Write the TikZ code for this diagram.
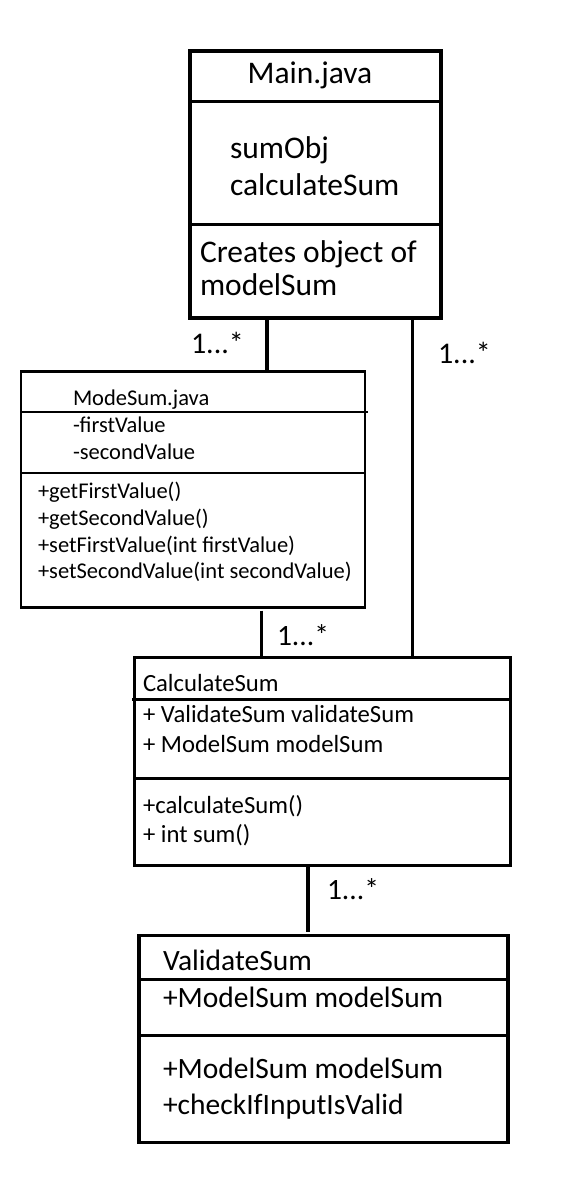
\documentclass[tikz,border=0pt]{standalone}
\usepackage{fontspec}
\setmainfont{Carlito}
\begin{document}
\begin{tikzpicture}[x=1pt,y=-1pt,
  box/.style={draw, rectangle, inner sep=0pt, outer sep=0pt, anchor=north west},
  txt/.style={anchor=base west, inner sep=0pt, outer sep=0pt},
  conn/.style={line width=4pt},
  fmain/.style={font=\fontsize{31.5}{37}\selectfont},
  fmode/.style={font=\fontsize{22.5}{27}\selectfont},
  fcalc/.style={font=\fontsize{24.7}{30}\selectfont},
  fval/.style={font=\fontsize{29.5}{35}\selectfont},
  flab/.style={font=\fontsize{30}{36}\selectfont}]
\fill[white] (0,0) rectangle (583,1204);
\useasboundingbox (0,0) rectangle (583,1204);

% Main.java
\node[box, line width=4pt, minimum width=250.5pt, minimum height=266.5pt] (main) at (190,51) {};
\draw[line width=3pt] (main.west |- 0,101.5) -- (main.east |- 0,101.5);
\draw[line width=3pt] (main.west |- 0,224) -- (main.east |- 0,224);
\node[fmain, anchor=base, inner sep=0pt] (mt) at (310,84) {Main.java};
\node[fmain, txt] (m1) at (230,158) {sumObj};
\node[fmain, txt] (m2) at (230,195) {calculateSum};
\node[fmain, txt] (m3) at (200,262) {Creates object of};
\node[fmain, txt] (m4) at (200,295) {modelSum};

% ModeSum.java
\node[box, line width=2.7pt, minimum width=344pt, minimum height=236pt] (mode) at (21,371.5) {};
\draw[line width=2.7pt] (mode.west |- 0,412) -- (368,412);
\draw[line width=2.7pt] (mode.west |- 0,473) -- (mode.east |- 0,473);
\node[fmode, txt] (d0) at (73,405) {ModeSum.java};
\node[fmode, txt] (d1) at (73,432) {-firstValue};
\node[fmode, txt] (d2) at (73,459) {-secondValue};
\node[fmode, txt] (d3) at (38,498) {+getFirstValue()};
\node[fmode, txt] (d4) at (38,525) {+getSecondValue()};
\node[fmode, txt] (d5) at (38,552) {+setFirstValue(int firstValue)};
\node[fmode, txt] (d6) at (38,578) {+setSecondValue(int secondValue)};

% CalculateSum
\node[box, line width=3pt, minimum width=375.5pt, minimum height=208pt] (calc) at (134.5,657.5) {};
\draw[line width=3pt] (132,699) -- (calc.east |- 0,699);
\draw[line width=3pt] (calc.west |- 0,778) -- (calc.east |- 0,778);
\node[fcalc, txt] (c0) at (143,691) {CalculateSum};
\node[fcalc, txt] (c1) at (143,722) {+ ValidateSum validateSum};
\node[fcalc, txt] (c2) at (143,752) {+ ModelSum modelSum};
\node[fcalc, txt] (c3) at (143,813) {+calculateSum()};
\node[fcalc, txt] (c4) at (143,842) {+ int sum()};

% ValidateSum
\node[box, line width=3.2pt, minimum width=369pt, minimum height=207pt] (val) at (139,935.5) {};
\draw[line width=3pt] (val.west |- 0,979) -- (val.east |- 0,979);
\draw[line width=3pt] (val.west |- 0,1035) -- (val.east |- 0,1035);
\node[fval, txt] (v0) at (163,970) {ValidateSum};
\node[fval, txt] (v1) at (163,1007) {+ModelSum modelSum};
\node[fval, txt] (v2) at (163,1078) {+ModelSum modelSum};
\node[fval, txt] (v3) at (163,1114) {+checkIfInputIsValid};

% connectors
\draw[conn] (main.south -| 267,0) -- (mode.north -| 267,0);
\draw[line width=3.3pt] (main.south -| 412.5,0) -- (calc.north -| 412.5,0);
\draw[line width=3.3pt, shorten <=3pt] (mode.south -| 261.5,0) -- (calc.north -| 261.5,0);
\draw[conn, shorten >=4pt] (calc.south -| 308,0) -- (val.north -| 308,0);

% multiplicities
\node[flab, txt] (l1) at (191,353) {1...*};
\node[flab, txt] (l2) at (438,363) {1...*};
\node[fval, txt] (l3) at (277,645) {1...*};
\node[fval, txt] (l4) at (327,899) {1...*};
\end{tikzpicture}
\end{document}
